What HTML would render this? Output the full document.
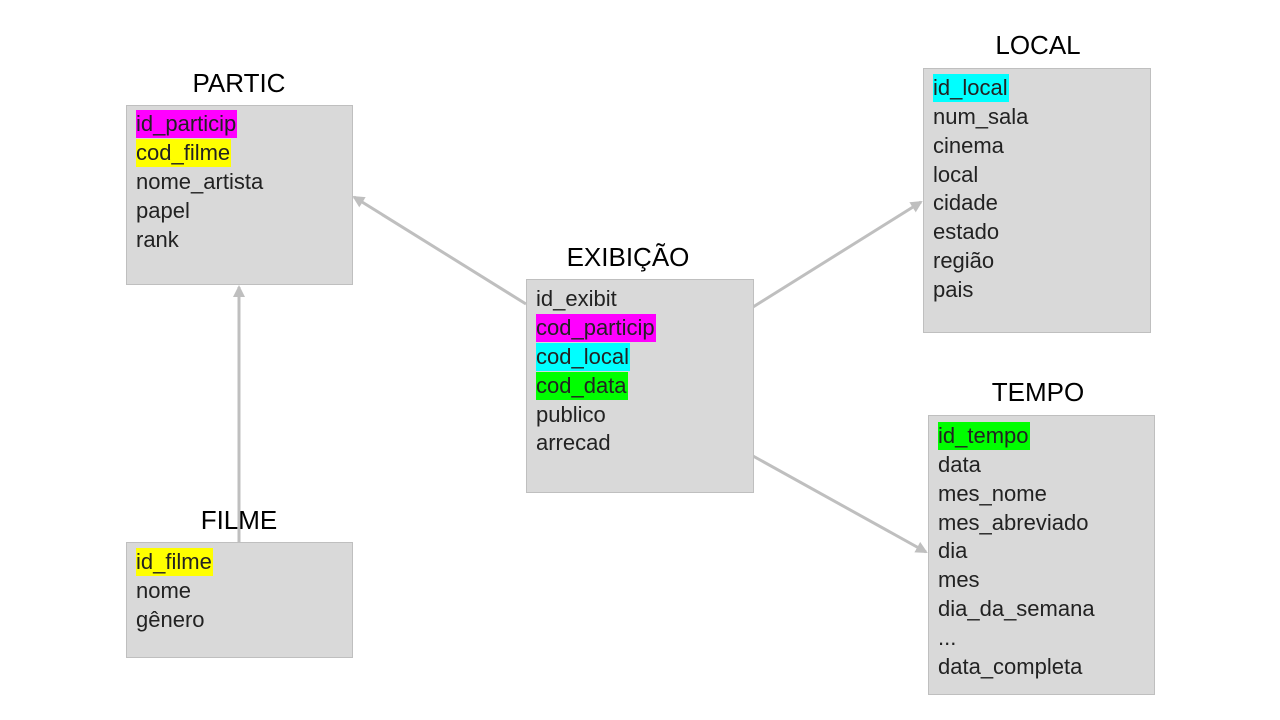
<!DOCTYPE html>
<html><head><meta charset="utf-8"><style>
body{margin:0;width:1280px;height:720px;background:#fff;position:relative;overflow:hidden;font-family:"Liberation Sans",sans-serif;}
.box{position:absolute;background:#d9d9d9;border:1px solid #bfbfbf;box-sizing:border-box;}
.t{position:absolute;font-size:26px;color:#000;text-align:center;width:240px;}
.r{position:absolute;left:9px;font-size:22px;line-height:28px;height:28px;color:#222;white-space:nowrap;padding-right:1px}
.m{background:#ff00ff}.y{background:#ffff00}.c{background:#00ffff}.g{background:#00ff00}
svg{position:absolute;left:0;top:0}
</style></head><body>
<svg width="1280" height="720">
<defs><marker id="a" markerWidth="12" markerHeight="12" refX="10" refY="6" orient="auto" markerUnits="userSpaceOnUse"><path d="M0,0 L12,6 L0,12 z" fill="#bfbfbf"/></marker></defs>
<g stroke="#bfbfbf" stroke-width="3" fill="none">
<line x1="526" y1="304" x2="354" y2="197" marker-end="url(#a)"/>
<line x1="239" y1="542" x2="239" y2="287" marker-end="url(#a)"/>
<line x1="753" y1="307" x2="921" y2="202" marker-end="url(#a)"/>
<line x1="753" y1="456" x2="926" y2="552" marker-end="url(#a)"/>
</g></svg>

<div class="t" style="left:119px;top:68px">PARTIC</div>
<div class="box" style="left:126px;top:105px;width:227px;height:180px">
<div class="r m" style="top:4px">id_particip</div>
<div class="r y" style="top:33px">cod_filme</div>
<div class="r" style="top:62px">nome_artista</div>
<div class="r" style="top:91px">papel</div>
<div class="r" style="top:120px">rank</div>
</div>

<div class="t" style="left:119px;top:505px">FILME</div>
<div class="box" style="left:126px;top:542px;width:227px;height:116px">
<div class="r y" style="top:5px">id_filme</div>
<div class="r" style="top:34px">nome</div>
<div class="r" style="top:63px">gênero</div>
</div>

<div class="t" style="left:508px;top:242px">EXIBIÇÃO</div>
<div class="box" style="left:526px;top:279px;width:228px;height:214px">
<div class="r" style="top:5px">id_exibit</div>
<div class="r m" style="top:34px">cod_particip</div>
<div class="r c" style="top:63px">cod_local</div>
<div class="r g" style="top:92px">cod_data</div>
<div class="r" style="top:121px">publico</div>
<div class="r" style="top:149px">arrecad</div>
</div>

<div class="t" style="left:918px;top:30px">LOCAL</div>
<div class="box" style="left:923px;top:68px;width:228px;height:265px">
<div class="r c" style="top:5px">id_local</div>
<div class="r" style="top:34px">num_sala</div>
<div class="r" style="top:63px">cinema</div>
<div class="r" style="top:92px">local</div>
<div class="r" style="top:120px">cidade</div>
<div class="r" style="top:149px">estado</div>
<div class="r" style="top:178px">região</div>
<div class="r" style="top:207px">pais</div>
</div>

<div class="t" style="left:918px;top:377px">TEMPO</div>
<div class="box" style="left:928px;top:415px;width:227px;height:280px">
<div class="r g" style="top:6px">id_tempo</div>
<div class="r" style="top:35px">data</div>
<div class="r" style="top:64px">mes_nome</div>
<div class="r" style="top:93px">mes_abreviado</div>
<div class="r" style="top:121px">dia</div>
<div class="r" style="top:150px">mes</div>
<div class="r" style="top:179px">dia_da_semana</div>
<div class="r" style="top:208px">...</div>
<div class="r" style="top:237px">data_completa</div>
</div>
</body></html>
